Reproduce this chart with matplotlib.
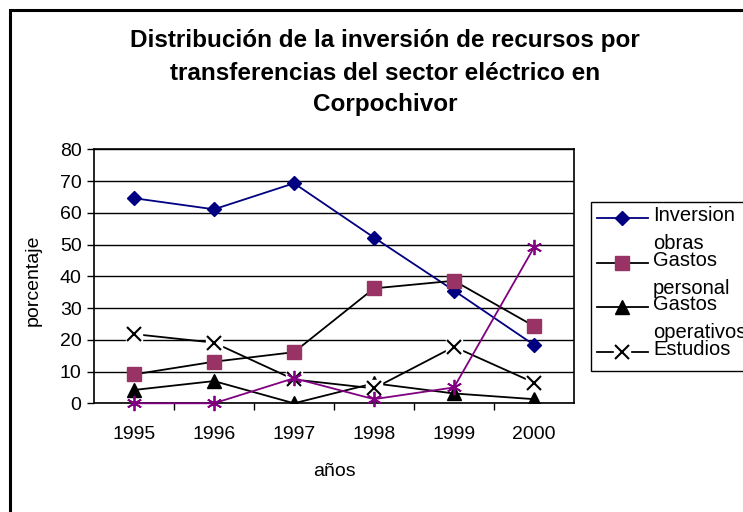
import matplotlib
matplotlib.use('Agg')
import matplotlib.pyplot as plt
from matplotlib.lines import Line2D
from matplotlib.patches import Rectangle

plt.rcParams['font.family'] = ['Liberation Sans', 'DejaVu Sans']

# Data
years = ['1995', '1996', '1997', '1998', '1999', '2000']
inversion_obras = [64.6, 61.1, 69.3, 52.2, 35.5, 18.4]
gastos_personal = [9.1, 13.1, 16.1, 36.2, 38.6, 24.3]
gastos_operativos = [4.2, 7.0, 0.0, 6.3, 3.1, 1.3]
estudios = [21.8, 19.1, 7.5, 4.7, 17.8, 6.5]
otros = [0.0, 0.0, 7.9, 1.3, 5.0, 49.1]

title = 'Distribución de la inversión de recursos por\ntransferencias del sector eléctrico en\nCorpochivor'

fig = plt.figure(figsize=(7.43, 5.12), dpi=100)
W, H = 743, 512

# outer chart border (only left/top visible in the crop)
fig.patches.append(Rectangle((10 / W, -0.1), 1.2, (512 - 10) / H + 0.1,
                             transform=fig.transFigure, fill=False,
                             edgecolor='black', linewidth=2.2))

ax = fig.add_axes([94 / W, 1 - 403.3 / H, (574 - 94) / W, (403.3 - 149.3) / H])
x = range(len(years))

ax.plot(x, inversion_obras, color='#000080', marker='D', ms=7, lw=1.3, zorder=3)
ax.plot(x, gastos_personal, color='black', marker='s', ms=10, mfc='#993366',
        mec='#993366', lw=1.3, zorder=3)
ax.plot(x, gastos_operativos, color='black', marker='^', ms=10, lw=1.3, zorder=3)
ax.plot(x, estudios, color='black', lw=1.3, zorder=3)
ax.plot(x, estudios, ls='none', marker='s', ms=12, mfc='white', mec='white', zorder=4)
ax.plot(x, estudios, ls='none', marker='x', ms=10, mew=1.5, color='black', zorder=5)
ax.plot(x, otros, color='#800080', marker=(6, 2, 0), ms=11, mew=1.3, lw=1.3, zorder=6,
        clip_on=False)

ax.set_xlim(-0.5, len(years) - 0.5)
ax.set_ylim(0, 80)
ax.set_yticks(range(0, 81, 10))
ax.set_xticks(x)
ax.set_xticklabels(years)
ax.set_xticks([i + 0.5 for i in range(len(years) - 1)], minor=True)
ax.tick_params(axis='x', which='major', length=0, pad=16, labelsize=14)
ax.tick_params(axis='x', which='minor', length=5, direction='out', width=1)
ax.tick_params(axis='y', length=5, direction='out', width=1, labelsize=14, pad=4)
ax.grid(axis='y', color='black', lw=1)
for s in ax.spines.values():
    s.set_linewidth(1.2)
    s.set_color('black')

fig.text(33 / W, 1 - 280 / H, 'porcentaje', rotation=90, ha='center', va='center', fontsize=14)
fig.text(334 / W, 1 - 472 / H, 'años', ha='center', va='center', fontsize=14)
fig.text(385 / W, 1 - 73 / H, title, ha='center', va='center', fontsize=17.5,
         fontweight='bold', linespacing=1.5)

# legend box, partly outside the figure as in the reference
fig.patches.append(Rectangle((591 / W, 1 - 371 / H), 0.5, (371 - 202) / H,
                             transform=fig.transFigure, fill=True, facecolor='white',
                             edgecolor='black', linewidth=1.0))
entries = [
    ('Inversion\nobras', dict(color='#000080', marker='D', ms=7)),
    ('Gastos\npersonal', dict(color='black', marker='s', ms=10, mfc='#993366', mec='#993366')),
    ('Gastos\noperativos', dict(color='black', marker='^', ms=10)),
    ('Estudios', dict(color='black', marker='x', ms=10, mew=1.5)),
]
for i, (lab, st) in enumerate(entries):
    yy = 1 - (218 + i * 44.7) / H
    fig.lines.append(Line2D([597 / W, 648 / W], [yy, yy], transform=fig.transFigure,
                            lw=1.3, color=st['color']))
    if st['marker'] == 'x':
        fig.lines.append(Line2D([622 / W], [yy], transform=fig.transFigure, ls='none',
                                marker='s', ms=12, mfc='white', mec='white'))
    fig.lines.append(Line2D([622 / W], [yy], transform=fig.transFigure, ls='none', **st))
    fig.text(653 / W, yy + 12 / H, lab, ha='left', va='top', fontsize=14.5, linespacing=1.6)

fig.savefig('out.png', dpi=100)
